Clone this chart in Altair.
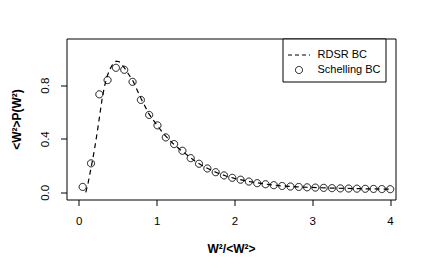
import altair as alt
import pandas as pd

# Schelling BC (open circles)
sch_x = [0.050, 0.157, 0.264, 0.370, 0.477, 0.584, 0.691, 0.798, 0.904, 1.011,
         1.118, 1.225, 1.332, 1.438, 1.545, 1.652, 1.759, 1.866, 1.972, 2.079,
         2.186, 2.293, 2.400, 2.506, 2.613, 2.720, 2.827, 2.934, 3.040, 3.147,
         3.254, 3.361, 3.468, 3.574, 3.681, 3.788, 3.895, 4.002]
sch_y = [0.040, 0.216, 0.732, 0.838, 0.930, 0.915, 0.825, 0.690, 0.578, 0.500,
         0.410, 0.360, 0.310, 0.255, 0.213, 0.178, 0.150, 0.126, 0.108, 0.094,
         0.080, 0.068, 0.060, 0.053, 0.047, 0.043, 0.040, 0.037, 0.035, 0.033,
         0.031, 0.029, 0.028, 0.027, 0.026, 0.025, 0.024, 0.023]

# RDSR BC (dashed line)
rd_x = [0.09, 0.12, 0.15, 0.18, 0.21, 0.24, 0.27, 0.30, 0.33, 0.36, 0.40, 0.44,
        0.48, 0.52, 0.56, 0.60, 0.70, 0.80, 0.90, 1.00, 1.10, 1.20, 1.30, 1.40,
        1.50, 1.60, 1.70, 1.80, 1.90, 2.00, 2.20, 2.40, 2.60, 2.80, 3.00, 3.20,
        3.40, 3.60, 3.80, 4.00]
rd_y = [0.000, 0.070, 0.160, 0.250, 0.350, 0.460, 0.580, 0.700, 0.790, 0.860,
        0.920, 0.960, 0.980, 0.975, 0.950, 0.918, 0.828, 0.700, 0.587, 0.505,
        0.430, 0.370, 0.320, 0.275, 0.230, 0.195, 0.165, 0.140, 0.120, 0.104,
        0.080, 0.061, 0.048, 0.041, 0.036, 0.032, 0.029, 0.027, 0.025, 0.023]

series = ["RDSR BC", "Schelling BC"]
x_ticks = [0, 1, 2, 3, 4]
y_ticks = [0.0, 0.2, 0.4, 0.6, 0.8, 1.0]

df_sch = pd.DataFrame({"x": sch_x, "y": sch_y, "series": series[1]})
df_rd = pd.DataFrame({"x": rd_x, "y": rd_y, "series": series[0]})

FONT = "Liberation Sans"

xs = alt.Scale(domain=[-0.158, 4.07], nice=False, zero=False)
ys = alt.Scale(domain=[-0.054, 1.149], nice=False, zero=False)

xax = alt.Axis(values=x_ticks, title="W²/<W²>", domain=False, grid=False,
               tickColor="black", tickSize=6, labelColor="black",
               labelFontSize=11.5, labelPadding=10, labelFont=FONT,
               titleFont=FONT, titleFontSize=12, titleFontWeight="bold",
               titleColor="black", titlePadding=16, format="d")
yax = alt.Axis(values=y_ticks, title="<W²>P(W²)", domain=False, grid=False,
               tickColor="black", tickSize=6, labelColor="black",
               labelFontSize=11.5, labelPadding=10, labelFont=FONT,
               labelAngle=270, labelAlign="center", labelBaseline="bottom",
               labelOverlap=False,
               labelExpr="(abs(datum.value) < 1e-6 || abs(datum.value - 0.4) < 1e-6 || abs(datum.value - 0.8) < 1e-6) ? format(datum.value, '.1f') : ''",
               titleFont=FONT, titleFontSize=12, titleFontWeight="bold",
               titleColor="black", titlePadding=16)

LEG_EXPR = "datum.label + '\u00a0\u00a0\u00a0\u00a0'"


def leg():
    return alt.Legend(title=None, labelExpr=LEG_EXPR, orient="none",
                      legendX=216, legendY=0, strokeColor="black",
                      fillColor="white", padding=5, cornerRadius=0,
                      labelFont=FONT, labelFontSize=11, labelColor="black",
                      labelOffset=7, symbolStrokeWidth=1, symbolStrokeColor="black")


pts = alt.Chart(df_sch).mark_point(filled=False, color="black", strokeWidth=1, opacity=1).encode(
    x=alt.X("x:Q", scale=xs),
    y=alt.Y("y:Q", scale=ys),
    shape=alt.Shape("series:N", scale=alt.Scale(domain=series, range=["stroke", "circle"]),
                    legend=leg()),
    strokeDash=alt.StrokeDash("series:N", scale=alt.Scale(domain=series, range=[[4, 3], [1, 0]]),
                              legend=leg()),
    size=alt.Size("series:N", scale=alt.Scale(domain=series, range=[484, 50]),
                  legend=leg()),
)

line = alt.Chart(df_rd).mark_line(color="black", strokeDash=[5, 4], strokeWidth=1.2).encode(
    x=alt.X("x:Q", scale=xs, axis=xax),
    y=alt.Y("y:Q", scale=ys, axis=yax),
)

chart = alt.layer(line, pts).properties(
    width=329, height=161,
    background="white",
    autosize=alt.AutoSizeParams(type="none"),
    padding={"left": 58.5, "top": 30.5, "right": 30, "bottom": 60},
).configure_view(
    stroke="black", strokeWidth=1,
).configure_legend(
    strokeWidth=1, rowPadding=3,
)

chart.save("out.html", embed_options={"renderer": "svg", "actions": False})
